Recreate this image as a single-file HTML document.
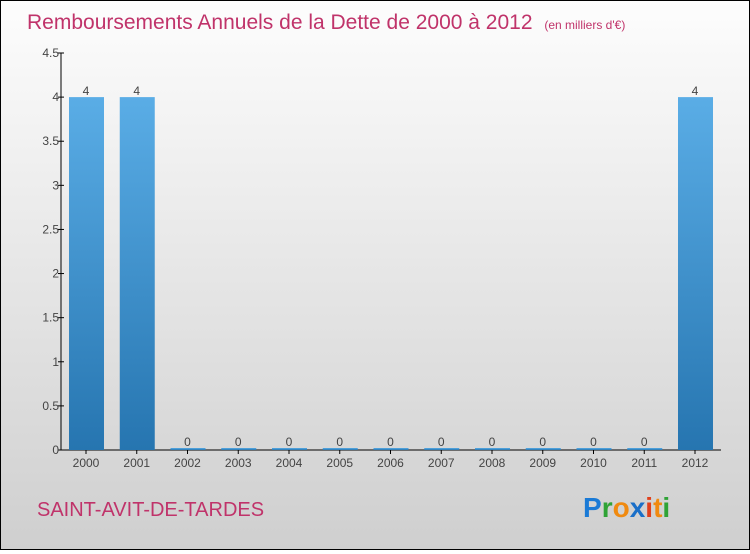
<!DOCTYPE html>
<html><head><meta charset="utf-8"><style>
body{margin:0}
#c{width:748px;height:548px;border:1px solid #000;background:linear-gradient(#fdfdfd,#cfcfcf);position:relative;font-family:"Liberation Sans",sans-serif}
</style></head><body>
<div id="c">
<svg width="748" height="548" id="s">
<defs><linearGradient id="g" x1="0" y1="0" x2="0" y2="1"><stop offset="0" stop-color="#5aade6"/><stop offset="1" stop-color="#2675b0"/></linearGradient></defs>
<text x="26" y="28" font-size="21" fill="#c0336a">Remboursements Annuels de la Dette de 2000 à 2012 <tspan font-size="12" dx="6">(en milliers d'€)</tspan></text>
<text x="36" y="515" font-size="20" fill="#c0336a">SAINT-AVIT-DE-TARDES</text>
<g font-size="28" font-weight="bold" font-family="Liberation Sans, sans-serif"><text x="582" y="516"><tspan fill="#1a7ad6">P</tspan><tspan fill="#2fa336">r</tspan><tspan fill="#f08a10">o</tspan><tspan fill="#1a6fc8">x</tspan><tspan fill="#e0401c">i</tspan><tspan fill="#f08a10">t</tspan><tspan fill="#2fa336">i</tspan></text></g>
<g id="plot"></g>
</svg></div>
<script>
const years=["2000","2001","2002","2003","2004","2005","2006","2007","2008","2009","2010","2011","2012"];
const values=[4,4,0,0,0,0,0,0,0,0,0,0,4];
const ticks=[0,0.5,1,1.5,2,2.5,3,3.5,4,4.5];
const NS="http://www.w3.org/2000/svg";
const p=document.getElementById('plot');
const y=v=>449-v*(397/4.5);
const x=i=>85+i*50.75;
function mk(t,a){const e=document.createElementNS(NS,t);for(const k in a)e.setAttribute(k,a[k]);p.appendChild(e);return e;}
let ax=mk('line',{x1:60,y1:52,x2:60,y2:449,stroke:'#000'});


let bx=mk('line',{x1:60,y1:449,x2:720,y2:449,stroke:'#000'});


ticks.forEach(t=>{
 let l=mk('line',{x1:57,x2:63,y1:y(t),y2:y(t),stroke:'#000'});
 
 
 let tx=mk('text',{x:58,y:y(t)+4,'font-size':12,'text-anchor':'end',fill:'#444'});
 tx.textContent=t;
 
 
});
years.forEach((yr,i)=>{
 const v=values[i];const top=y(v);
 let r=mk('rect',{x:x(i)-17,y:v>0?top:447,width:35,height:v>0?449-top:2,fill:'url(#g)'});
 
 
 let vl=mk('text',{x:x(i),y:(v>0?top:447)-2,'font-size':12,'text-anchor':'middle',fill:'#444'});
 vl.textContent=v;
 
 
 let tk=mk('line',{x1:x(i),x2:x(i),y1:449,y2:453,stroke:'#000'});
 
 
 let xl=mk('text',{x:x(i),y:466,'font-size':12,'text-anchor':'middle',fill:'#444'});
 xl.textContent=yr;
 
 
});
</script>
</body></html>
